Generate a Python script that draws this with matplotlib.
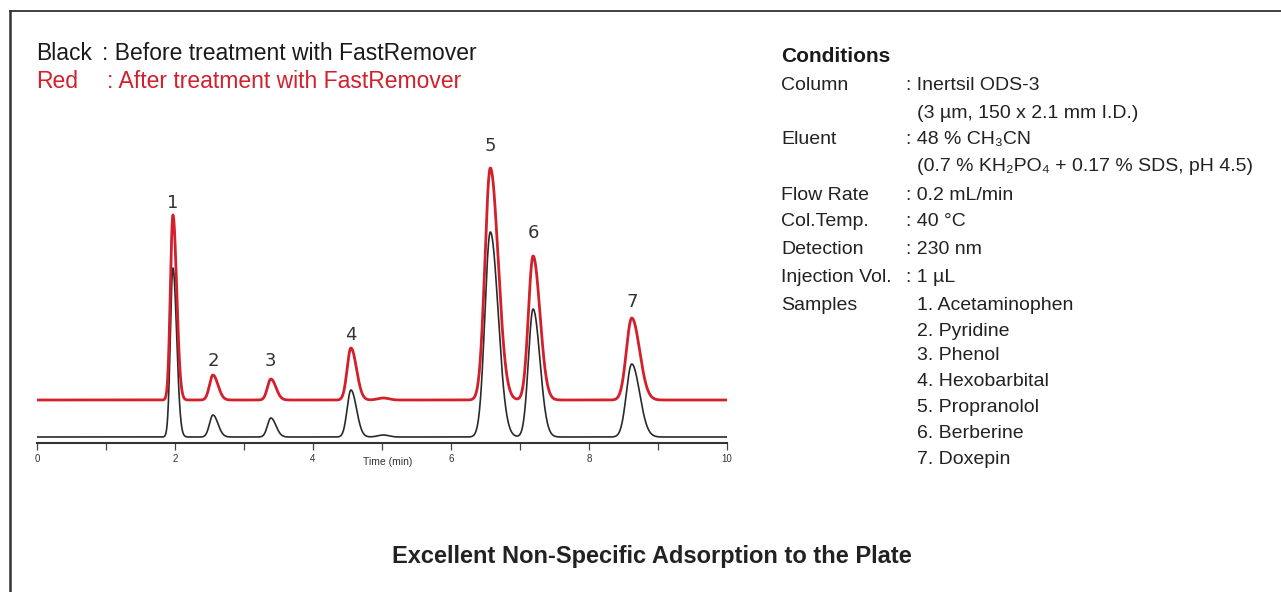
import numpy as np
import matplotlib.pyplot as plt
from matplotlib.lines import Line2D

plt.rcParams['font.family'] = ['Liberation Sans', 'DejaVu Sans']

# Peak table (retention time in min, heights in arbitrary units)
peak_no = ['1', '2', '3', '4', '5', '6', '7']
rt = [1.97, 2.55, 3.39, 4.55, 6.57, 7.19, 8.62]
h_before = [169, 22, 19, 47, 205, 128, 73]
h_after = [185, 25, 21, 52, 232, 144, 82]
sigma = [0.037, 0.05, 0.05, 0.055, 0.078, 0.068, 0.078]
label_gap = [3, 5, 9, 4, 13, 14, 7]

# small bump after peak 4
bump_rt = 5.02
bump_h = 2

base_before = 6
base_after = 43

conditions = [
    ('Column', ': Inertsil ODS-3'),
    ('', '(3 \u00b5m, 150 x 2.1 mm I.D.)'),
    ('Eluent', ': 48 % CH\u2083CN'),
    ('', '(0.7 % KH\u2082PO\u2084 + 0.17 % SDS, pH 4.5)'),
    ('Flow Rate', ': 0.2 mL/min'),
    ('Col.Temp.', ': 40 \u00b0C'),
    ('Detection', ': 230 nm'),
    ('Injection Vol.', ': 1 \u00b5L'),
    ('Samples', '1. Acetaminophen'),
    ('', '2. Pyridine'),
    ('', '3. Phenol'),
    ('', '4. Hexobarbital'),
    ('', '5. Propranolol'),
    ('', '6. Berberine'),
    ('', '7. Doxepin'),
]
row_y = [85, 113, 139, 167, 195, 222, 249, 277, 305, 331, 356, 381, 407, 433, 459]

W, H = 1281, 592


def fx(x):
    return x / W


def fy(y):
    return 1 - y / H


def trace(t, heights, base):
    y = np.full_like(t, base, dtype=float)
    for r, hh, s in zip(rt, heights, sigma):
        # a little tailing on the right side
        s_side = np.where(t < r, s, s * 1.45)
        y += hh * np.exp(-0.5 * ((t - r) / s_side) ** 2)
    y += bump_h * np.exp(-0.5 * ((t - bump_rt) / 0.08) ** 2)
    return y


t = np.linspace(0, 10, 3000)
y_black = trace(t, h_before, base_before)
y_red = trace(t, h_after, base_after)

fig = plt.figure(figsize=(12.81, 5.92), dpi=100)

# frame lines (top and left only)
fig.add_artist(Line2D([fx(10), 1], [fy(11), fy(11)], color='#333333', lw=1.3))
fig.add_artist(Line2D([fx(10), fx(10)], [fy(11), 0], color='#333333', lw=1.8))

ax = fig.add_axes([fx(37), fy(443), fx(727) - fx(37), fy(150) - fy(443)])
ax.plot(t, y_black, color='#2a2a2a', lw=1.2)
ax.plot(t, y_red, color='#d2202c', lw=2.0)
ax.set_xlim(0, 10)
ax.set_ylim(0, 293)
for side in ['top', 'right', 'left']:
    ax.spines[side].set_visible(False)
ax.spines['bottom'].set_linewidth(1.5)
ax.spines['bottom'].set_color('#333333')
ax.set_yticks([])
ax.set_xticks([0, 2, 4, 6, 8, 10])
ax.set_xticks([1, 3, 5, 7, 9], minor=True)
ax.tick_params(axis='x', which='both', direction='out', length=5, width=0.9,
               color='#444444', labelsize=7, pad=3, labelcolor='#333333')
ax.patch.set_alpha(0)

for lab, r, hh, g in zip(peak_no, rt, h_after, label_gap):
    ax.text(r, base_after + hh + g, lab, ha='center', va='bottom',
            fontsize=13, color='#333333', family=['DejaVu Sans'])

fig.text(fx(388), fy(462), 'Time (min)', ha='center', va='center',
         fontsize=7.5, color='#333333')

# legend text
fig.text(fx(36), fy(53), 'Black', ha='left', va='center', fontsize=16.5, color='#1a1a1a')
fig.text(fx(102), fy(53), ': Before treatment with FastRemover', ha='left',
         va='center', fontsize=16.5, color='#1a1a1a')
fig.text(fx(36), fy(82), 'Red', ha='left', va='center', fontsize=16.5, color='#d2202c')
fig.text(fx(107), fy(82), ': After treatment with FastRemover', ha='left',
         va='center', fontsize=16.5, color='#d2202c')

# conditions block
fig.text(fx(781), fy(56), 'Conditions', ha='left', va='center', fontsize=15,
         fontweight='bold', color='#1a1a1a')
for (lab, val), yy in zip(conditions, row_y):
    if lab:
        fig.text(fx(781), fy(yy), lab, ha='left', va='center', fontsize=14, color='#222222')
    xv = 906 if val.startswith(':') else 917
    fig.text(fx(xv), fy(yy), val, ha='left', va='center', fontsize=14, color='#222222')

fig.text(fx(652), fy(557), 'Excellent Non-Specific Adsorption to the Plate',
         ha='center', va='center', fontsize=17, fontweight='bold', color='#222222')

fig.savefig('out.png', dpi=100)
